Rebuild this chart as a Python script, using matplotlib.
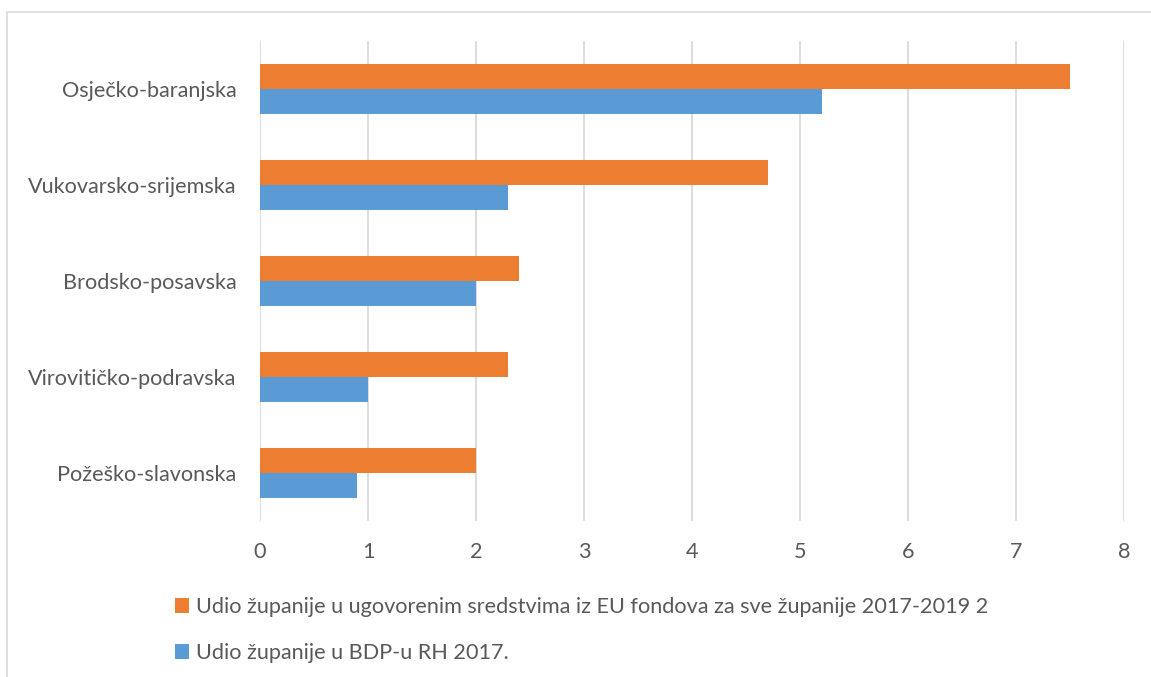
import matplotlib.pyplot as plt
import numpy as np
from matplotlib.patches import Rectangle

counties = ['Osječko-baranjska', 'Vukovarsko-srijemska', 'Brodsko-posavska',
            'Virovitičko-podravska', 'Požeško-slavonska']
eu_share = [7.5, 4.7, 2.4, 2.3, 2.0]
gdp_share = [5.2, 2.3, 2.0, 1.0, 0.9]
eu_label = 'Udio županije u ugovorenim sredstvima iz EU fondova za sve županije 2017-2019 2'
gdp_label = 'Udio županije u BDP-u RH 2017.'

plt.rcParams['font.family'] = ['Lato', 'DejaVu Sans']
text_col = '#595959'
fs = 15.6

fig = plt.figure(figsize=(11.51, 6.77), dpi=100)
ax = fig.add_axes([0.2259, 0.2304, 0.7506, 0.709])

y = np.arange(len(counties))
h = 0.26
ax.barh(y - h / 2, eu_share, height=h, color='#ED7D31', label=eu_label, zorder=3)
ax.barh(y + h / 2, gdp_share, height=h, color='#5B9BD5', label=gdp_label, zorder=3)

ax.set_ylim(len(counties) - 0.5, -0.5)
ax.set_yticks(y)
ax.set_yticklabels(counties)
ax.set_xlim(0, 8)
ax.set_xticks(range(0, 9))
ax.grid(axis='x', color='#D9D9D9', linewidth=1.3, zorder=0)
for s in ax.spines.values():
    s.set_visible(False)
ax.tick_params(axis='both', length=0, labelsize=fs, colors=text_col)
ax.tick_params(axis='y', pad=17)
ax.tick_params(axis='x', pad=15)

leg = fig.legend(loc='upper left', bbox_to_anchor=(0.152, 0.118), frameon=False,
                 fontsize=fs, labelspacing=1.2, handlelength=0.65, handleheight=0.65,
                 handletextpad=0.3, borderaxespad=0, borderpad=0)
for t in leg.get_texts():
    t.set_color(text_col)

# chart frame
fig.patches.append(Rectangle((7 / 1151, -0.1), 1.2, 1 - 12 / 677 + 0.1,
                             transform=fig.transFigure, fill=False,
                             edgecolor='#D9D9D9', linewidth=1.2))

fig.savefig('out.png', dpi=100)
